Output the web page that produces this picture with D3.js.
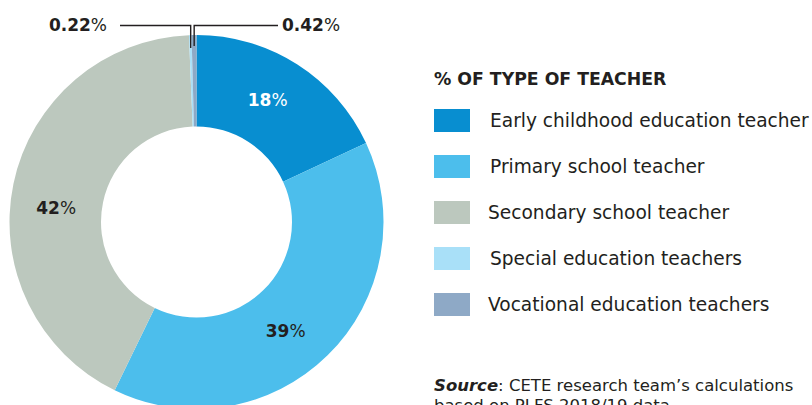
<!DOCTYPE html>
<html>
<head>
<meta charset="utf-8">
<script src="https://cdn.jsdelivr.net/npm/d3@7"></script>
<style>
  body { margin: 0; background: #fff; }
  svg { display: block; font-family: "DejaVu Sans", sans-serif; }
</style>
</head>
<body>
<script>
var width = 812,
  height = 405;

// data
var categories = [
  "Early childhood education teacher",
  "Primary school teacher",
  "Secondary school teacher",
  "Special education teachers",
  "Vocational education teachers"
];
var shares = [18, 39, 42, 0.22, 0.42];
var shareLabels = ["18", "39", "42", "0.22", "0.42"];
var colors = ["#088ed0", "#4cbeec", "#bcc8be", "#a9e0f8", "#8ea9c6"];

var cx = 196.5,
  cy = 222,
  outerR = 187,
  innerR = 95.5;

var svg = d3.select("body").append("svg")
  .attr("width", width)
  .attr("height", height);

var pie = d3.pie().sort(null).value(function (d) { return d; });
var arcs = pie(shares);
var arc = d3.arc().innerRadius(innerR).outerRadius(outerR);

var g = svg.append("g").attr("transform", "translate(" + cx + "," + cy + ")");

g.selectAll("path")
  .data(arcs)
  .join("path")
  .attr("d", arc)
  .attr("fill", function (d, i) { return colors[i]; });

// big slice labels, nudged along the ring like the original
var labelShift = [-2.2, 5.3, -6.3]; // degrees
var labelR = 141;
var big = g.selectAll("text.big")
  .data(arcs.slice(0, 3))
  .join("text")
  .attr("class", "big")
  .attr("text-anchor", "middle")
  .attr("dy", "0.35em")
  .attr("font-size", 17)
  .attr("fill", function (d, i) { return i == 0 ? "#fff" : "#231f20"; })
  .attr("transform", function (d, i) {
    var a = (d.startAngle + d.endAngle) / 2 + labelShift[i] * Math.PI / 180;
    return "translate(" + (labelR * Math.sin(a)) + "," + (-labelR * Math.cos(a)) + ")";
  });
big.append("tspan").attr("font-weight", "bold").text(function (d, i) { return shareLabels[i]; });
big.append("tspan").text("%");

// leader lines for the tiny slices
var lineY = 25.5 - cy;
var small = arcs.slice(3);
var leaderEnd = [120 - cx, 278 - cx];
var leaderDepth = [174, 176];
small.forEach(function (d, k) {
  var a = (d.startAngle + d.endAngle) / 2;
  var x = leaderDepth[k] * Math.sin(a);
  var y = -leaderDepth[k] * Math.cos(a);
  g.append("path")
    .attr("d", "M" + x + "," + y + "V" + lineY + "H" + leaderEnd[k])
    .attr("fill", "none")
    .attr("stroke", "#231f20")
    .attr("stroke-width", 1.4);
  var t = g.append("text")
    .attr("x", k == 0 ? leaderEnd[k] - 13 : leaderEnd[k] + 4)
    .attr("y", lineY)
    .attr("dy", "0.35em")
    .attr("text-anchor", k == 0 ? "end" : "start")
    .attr("font-size", 17)
    .attr("fill", "#231f20");
  t.append("tspan").attr("font-weight", "bold").text(shareLabels[k + 3]);
  t.append("tspan").text("%");
});

// legend
svg.append("text")
  .attr("x", 434)
  .attr("y", 85)
  .attr("font-size", 17.3)
  .attr("font-weight", "bold")
  .attr("fill", "#231f20")
  .text("% OF TYPE OF TEACHER");

var legendTextX = [56, 56, 54, 56, 54];
var legend = svg.selectAll("g.legend")
  .data(categories)
  .join("g")
  .attr("class", "legend")
  .attr("transform", function (d, i) { return "translate(434," + (109 + i * 46) + ")"; });

legend.append("rect")
  .attr("width", 36)
  .attr("height", 23)
  .attr("fill", function (d, i) { return colors[i]; });

legend.append("text")
  .attr("x", function (d, i) { return legendTextX[i]; })
  .attr("y", 11.5)
  .attr("dy", "0.35em")
  .attr("font-size", 18.6)
  .attr("fill", "#231f20")
  .text(function (d) { return d; });

// source note
var src = svg.append("text")
  .attr("x", 434)
  .attr("y", 391)
  .attr("font-size", 16.5)
  .attr("fill", "#231f20");
src.append("tspan").attr("font-weight", "bold").attr("font-style", "italic").text("Source");
src.append("tspan").text(": CETE research team\u2019s calculations");
svg.append("text")
  .attr("x", 434)
  .attr("y", 411)
  .attr("font-size", 16.5)
  .attr("fill", "#231f20")
  .text("based on PLFS 2018/19 data");
</script>
</body>
</html>
